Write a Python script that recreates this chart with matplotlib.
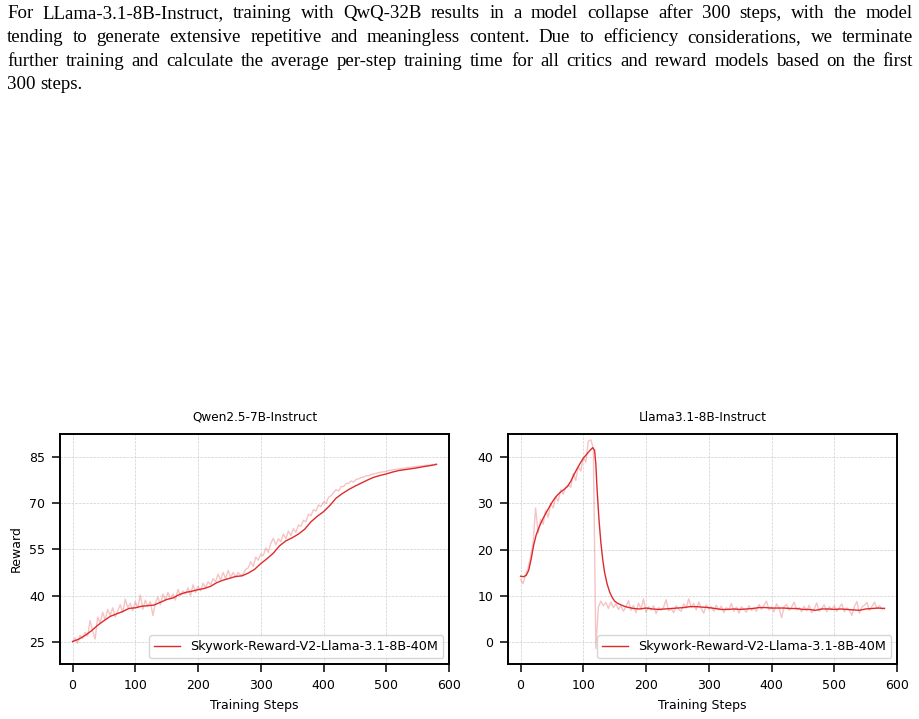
import numpy as np
import matplotlib
matplotlib.use("Agg")
from matplotlib import pyplot as plt

# paragraph above the figure
para_lines = [
    "For LLama-3.1-8B-Instruct, training with QwQ-32B results in a model collapse after 300 steps, with the model",
    "tending to generate extensive repetitive and meaningless content. Due to efficiency considerations, we terminate",
    "further training and calculate the average per-step training time for all critics and reward models based on the first",
    "300 steps.",
]

label = "Skywork-Reward-V2-Llama-3.1-8B-40M"
titles = ["Qwen2.5-7B-Instruct", "Llama3.1-8B-Instruct"]

# Qwen2.5-7B-Instruct: raw reward every 4 steps
qwen_raw_steps = np.arange(0, 581, 4)
qwen_raw = [
    25.0, 26.2, 24.5, 27.0, 26.0, 28.0, 26.8, 31.8, 28.5, 25.8,
    33.0, 31.0, 34.5, 32.0, 35.5, 33.5, 36.0, 33.0, 35.0, 37.0,
    34.5, 38.8, 36.0, 37.5, 35.0, 38.0, 36.0, 40.2, 35.5, 38.5,
    36.5, 38.0, 33.5, 37.5, 39.5, 37.0, 40.5, 38.5, 41.0, 39.0,
    40.5, 38.5, 42.0, 40.0, 41.5, 40.5, 42.5, 40.0, 43.5, 41.0,
    43.0, 41.5, 44.0, 42.5, 44.5, 43.5, 45.5, 44.5, 47.0, 45.0,
    47.5, 45.5, 48.2, 46.0, 47.5, 46.0, 47.5, 46.5, 47.0, 48.5,
    49.0, 51.0, 49.5, 52.5, 51.5, 53.5, 53.0, 55.5, 54.0, 57.0,
    58.6, 56.5, 58.5, 57.5, 60.0, 58.5, 61.0, 59.5, 61.8, 60.5,
    63.0, 62.5, 64.5, 64.0, 66.5, 66.0, 68.0, 67.5, 69.5, 69.0,
    70.5, 70.0, 72.0, 72.5, 73.5, 74.5, 74.0, 75.5, 75.5, 76.5,
    76.5, 77.3, 77.0, 77.8, 78.0, 78.4, 78.6, 79.0, 79.0, 79.4,
    79.6, 79.8, 80.0, 80.2, 80.3, 80.5, 80.7, 80.8, 81.0, 81.1,
    81.2, 81.3, 81.4, 81.6, 81.7, 81.8, 81.9, 82.0, 82.1, 82.2,
    82.3, 82.4, 82.5, 82.6, 82.7, 82.8,
]
# smoothed curve every 10 steps
qwen_smooth_steps = np.arange(0, 581, 10)
qwen_smooth = [
    25.0, 25.8, 27.0, 28.5, 30.3, 31.8, 33.2, 34.0, 34.8, 35.8,
    36.0, 36.5, 36.7, 36.9, 37.8, 38.7, 39.2, 40.3, 41.0, 41.4,
    41.9, 42.3, 43.0, 44.2, 45.0, 45.6, 46.2, 46.4, 47.3, 48.5,
    50.4, 52.0, 53.8, 56.2, 57.8, 58.8, 60.0, 61.6, 64.0, 65.8,
    67.3, 69.3, 71.7, 73.2, 74.5, 75.6, 76.6, 77.6, 78.5, 79.1,
    79.6, 80.2, 80.7, 81.0, 81.3, 81.6, 82.0, 82.3, 82.7,
]

# Llama3.1-8B-Instruct: raw reward every 4 steps
llama_raw_steps = np.arange(0, 581, 4)
llama_raw = [
    13.5, 12.6, 14.5, 16.0, 18.5, 21.5, 29.0, 23.5, 26.5, 25.5,
    28.5, 27.0, 30.0, 29.0, 31.5, 30.5, 33.0, 32.0, 33.5, 34.0,
    33.5, 36.5, 35.0, 38.0, 37.0, 40.0, 39.0, 43.5, 43.8, 42.0,
    -1.5, 7.5, 8.8, 7.8, 8.5, 7.2, 8.6, 7.4, 8.2, 7.0,
    7.8, 6.6, 7.6, 8.9, 6.8, 7.9, 6.3, 8.4, 7.1, 9.3,
    6.4, 7.6, 6.9, 7.8, 6.1, 7.4, 6.8, 7.5, 9.1, 6.7,
    7.2, 6.3, 7.8, 7.0, 6.6, 8.2, 7.3, 9.3, 7.5, 8.3,
    6.9, 8.6, 7.2, 6.2, 8.0, 7.0, 7.6, 6.6, 7.9, 6.9,
    7.7, 6.3, 7.4, 6.9, 8.3, 6.6, 7.5, 6.2, 7.6, 7.0,
    6.4, 7.8, 6.8, 7.3, 6.6, 8.1, 7.0, 7.9, 8.8, 6.9,
    7.6, 6.5, 8.2, 7.3, 5.2, 7.6, 8.1, 6.8, 7.5, 8.6,
    6.9, 7.4, 6.5, 7.7, 6.7, 7.9, 6.3, 7.0, 8.4, 6.6,
    7.2, 8.0, 6.5, 7.6, 7.0, 7.8, 6.6, 7.4, 8.2, 6.5,
    7.3, 6.9, 5.7, 7.6, 8.7, 6.2, 7.5, 7.9, 8.5, 6.8,
    7.6, 8.6, 7.2, 7.8, 7.1, 7.3,
]
llama_smooth_steps = [
    0, 5, 9, 13, 17, 21, 25,
    30, 35, 40, 45, 50, 55, 60, 65, 70, 75, 80, 85, 90, 95, 100, 105, 110, 115,
    118, 120, 122, 125, 128, 131, 134, 138, 142, 146, 150, 155, 160, 165, 170,
    180, 190, 200, 210, 220, 230, 240, 250, 260, 270, 280, 290, 300, 310, 320,
    330, 340, 350, 360, 370, 380, 390, 400, 410, 420, 430, 440, 450, 460, 470,
    480, 490, 500, 510, 520, 530, 540, 550, 560, 570, 580,
]
llama_smooth = [
    14.2, 14.1, 14.4, 15.5, 18.0, 21.0, 23.2,
    25.0, 26.5, 27.8, 29.0, 30.2, 31.2, 32.0, 32.6, 33.1, 33.7, 34.8, 36.2, 37.5, 38.7, 39.8, 40.6, 41.4, 42.1,
    41.5, 38.5, 33.0, 26.5, 21.5, 17.8, 15.0, 12.5, 10.8, 9.6, 8.8, 8.3, 8.0, 7.7, 7.5,
    7.2, 7.1, 7.3, 7.1, 7.0, 7.1, 7.2, 7.3, 7.4, 7.6, 7.6, 7.5, 7.4, 7.2, 7.0,
    7.0, 7.1, 7.0, 7.1, 7.2, 7.4, 7.4, 7.3, 7.3, 7.3, 7.2, 7.2, 7.0, 7.0, 6.8,
    7.1, 7.1, 7.0, 7.1, 7.0, 6.9, 6.8, 7.1, 7.2, 7.3, 7.2,
]

red = "#df2a2c"
W, H = 920, 719

fig = plt.figure(figsize=(W / 100, H / 100), dpi=100)

# justified paragraph, serif like the paper body
renderer = fig.canvas.get_renderer()
baselines = [18, 42, 66, 89]
x_left, x_right = 7, 913
fs_text = 13.6
for i, line in enumerate(para_lines):
    words = line.split()
    ts = [fig.text(0, 1 - baselines[i] / H, w, fontsize=fs_text, family="Liberation Serif",
                   va="baseline", ha="left", color="black") for w in words]
    widths = [t.get_window_extent(renderer).width for t in ts]
    if i < len(para_lines) - 1:
        gap = (x_right - x_left - sum(widths)) / (len(words) - 1)
    else:
        gap = 0.25 * fs_text * 100 / 72
    x = x_left
    for t, w in zip(ts, widths):
        t.set_x(x / W)
        x += w + gap

axes_px = [(60, 434, 389, 230), (508, 434, 389, 230)]
axs = [fig.add_axes([l / W, 1 - (t + h) / H, w / W, h / H]) for l, t, w, h in axes_px]

series = [
    (qwen_raw_steps, qwen_raw, qwen_smooth_steps, qwen_smooth, (17.7, 92.6), [25, 40, 55, 70, 85]),
    (llama_raw_steps, llama_raw, llama_smooth_steps, llama_smooth, (-4.84, 45.06), [0, 10, 20, 30, 40]),
]

for k, (ax, (rx, ry, sx, sy, ylim, yticks)) in enumerate(zip(axs, series)):
    ax.plot(rx, ry, color=red, alpha=0.28, lw=1.0)
    ax.plot(sx, sy, color=red, lw=1.0, label=label)
    ax.set_xlim(-20, 600)
    ax.set_ylim(*ylim)
    ax.set_yticks(yticks)
    ax.set_xticks([0, 100, 200, 300, 400, 500, 600])
    ax.grid(True, ls="--", lw=0.5, color="#cfcfcf")
    ax.set_axisbelow(True)
    for s in ax.spines.values():
        s.set_linewidth(1.4)
        s.set_color("black")
    ax.tick_params(direction="out", length=6, width=1.1, labelsize=9, pad=4.5)
    ax.set_title(titles[k], fontsize=8.7, pad=9.5)
    ax.set_xlabel("Training Steps", fontsize=9, labelpad=5)
    ax.legend(loc="lower right", fontsize=9.2, frameon=True, handlelength=2.0,
              borderaxespad=0.45)
axs[0].set_ylabel("Reward", fontsize=9, labelpad=5)

fig.savefig("out.png", dpi=100)
